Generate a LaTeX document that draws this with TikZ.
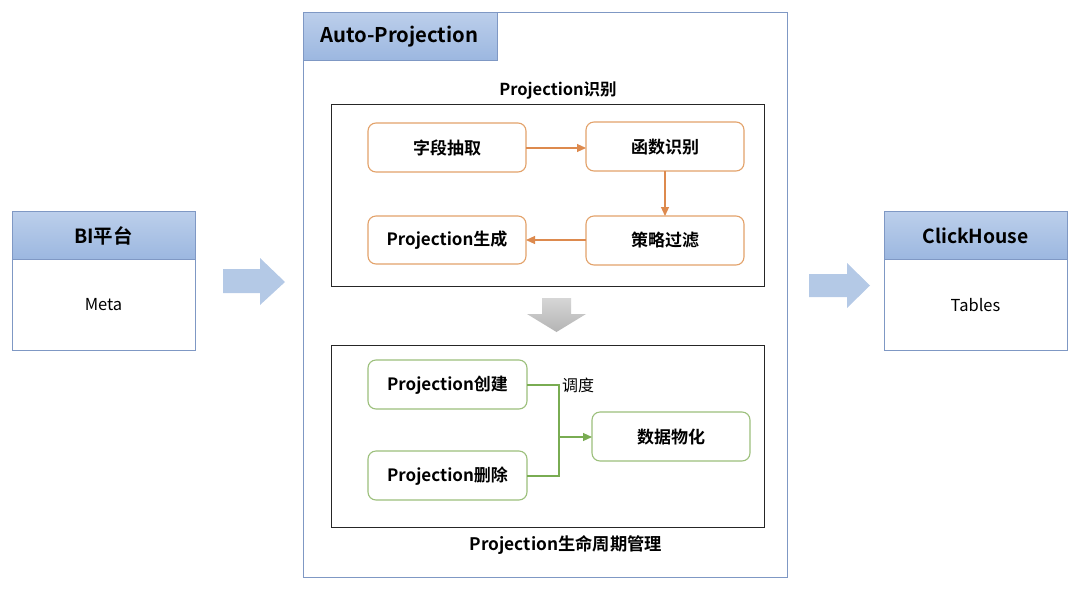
\documentclass[tikz,border=0pt]{standalone}
\usepackage{fontspec}
\setmainfont{Noto Sans CJK SC}
\newfontfamily\cjkbold{Noto Sans CJK SC Bold}
\usetikzlibrary{arrows.meta,positioning}
\definecolor{hdrtop}{HTML}{BCCFEB}
\definecolor{hdrbot}{HTML}{9CB7E0}
\definecolor{framecol}{HTML}{7F98C4}
\definecolor{arrowblue}{HTML}{B4C9E6}
\definecolor{orangec}{HTML}{E3A26A}
\definecolor{orangea}{HTML}{DD8A4E}
\definecolor{greenc}{HTML}{9CC07C}
\definecolor{greena}{HTML}{79AC52}
\definecolor{graytop}{HTML}{D6D6D6}
\definecolor{graybot}{HTML}{B4B4B4}
\tikzset{
  x=1pt,y=-1pt,
  hdr/.style={draw=framecol,line width=0.9pt,top color=hdrtop,bottom color=hdrbot},
  frame/.style={draw=framecol,line width=0.9pt,fill=white},
  inner/.style={draw=black!85,line width=1pt},
  obox/.style={draw=orangec,line width=1.1pt,rounded corners=8pt,fill=white},
  gbox/.style={draw=greenc,line width=1.1pt,rounded corners=8pt,fill=white},
  lbl/.style={font=\cjkbold\fontsize{17}{19}\selectfont,inner sep=0pt},
  oarr/.style={draw=orangea,line width=1.1pt,-{Triangle[length=9pt,width=8pt]}},
  garr/.style={draw=greena,line width=1.1pt},
}
\begin{document}
\begin{tikzpicture}
\useasboundingbox (0,0) rectangle (1080,598);
% BI box
\path[frame] (12,259) rectangle (195,350);
\path[hdr] (12,211) rectangle (195,259);
\node[font=\cjkbold\fontsize{19.5}{21}\selectfont] (bi) at (103.5,236) {BI平台};
\node[font=\fontsize{16.5}{18}\selectfont] (meta) at (103.5,305) {Meta};
% arrow 1
\fill[arrowblue] (223,269) -- (260,269) -- (260,258) -- (285,282) -- (260,305) -- (260,293) -- (223,293) -- cycle;
% Auto-Projection frame
\path[frame] (303,12) rectangle (787,577);
\path[hdr] (303,12) rectangle (497,60);
\node[font=\cjkbold\fontsize{20.3}{22}\selectfont,anchor=west,inner sep=0pt] (ap) at (320,37) {Auto-Projection};
% box 1
\node[font=\cjkbold\fontsize{16.5}{18}\selectfont] (t1) at (558,91) {Projection识别};
\draw[inner] (331,104) rectangle (764,286);
\path[obox] (368,123) rectangle (526,172);
\path[obox] (586,122) rectangle (744,171);
\path[obox] (368,216) rectangle (526,264);
\path[obox] (586,216) rectangle (744,265);
\node[lbl] (a) at (447,148) {字段抽取};
\node[lbl] (b) at (665,147) {函数识别};
\node[lbl] (c) at (665,240) {策略过滤};
\node[lbl] (d) at (447,240) {Projection生成};
\coordinate (ar) at (526,148);
\coordinate (bl) at (586,148);
\coordinate (bb) at (665,171);
\coordinate (ct) at (665,216);
\coordinate (cl) at (586,240);
\coordinate (dr) at (526,240);
\draw[oarr] (ar) -- (bl);
\draw[oarr] (bb) -- (ct);
\draw[oarr] (cl) -- (dr);
% gray arrow
\path[top color=graytop,bottom color=graybot] (542,298) -- (571,298) -- (571,314) -- (586,314) -- (556.5,332) -- (527,314) -- (542,314) -- cycle;
% box 2
\draw[inner] (331,345) rectangle (764,527);
\path[gbox] (368,360) rectangle (527,409);
\path[gbox] (368,451) rectangle (527,500);
\path[gbox] (592,412) rectangle (750,461);
\node[lbl] (e) at (447.5,385) {Projection创建};
\node[lbl] (f) at (447.5,476) {Projection删除};
\node[lbl] (g) at (671,437) {数据物化};
\coordinate (er) at (527,385);
\coordinate (fr) at (527,476);
\coordinate (j) at (559,437);
\coordinate (gl) at (592,437);
\draw[garr] (er) -| (j);
\draw[garr] (fr) -| (j);
\draw[garr,-{Triangle[length=9pt,width=8pt]}] (j) -- (gl);
\node[font=\fontsize{16}{18}\selectfont,anchor=west,inner sep=0pt] (sch) at (562,385) {调度};
\node[font=\cjkbold\fontsize{17.3}{19}\selectfont] (t2) at (566,545) {Projection生命周期管理};
% arrow 2
\fill[arrowblue] (809,274) -- (847,274) -- (847,263) -- (870,285.5) -- (847,308) -- (847,297) -- (809,297) -- cycle;
% ClickHouse
\path[frame] (884,259) rectangle (1067,350);
\path[hdr] (884,211) rectangle (1067,259);
\node[font=\cjkbold\fontsize{19.3}{21}\selectfont] (ch) at (975.5,236) {ClickHouse};
\node[font=\fontsize{16.5}{18}\selectfont] (tb) at (975.5,305) {Tables};
\end{tikzpicture}
\end{document}
